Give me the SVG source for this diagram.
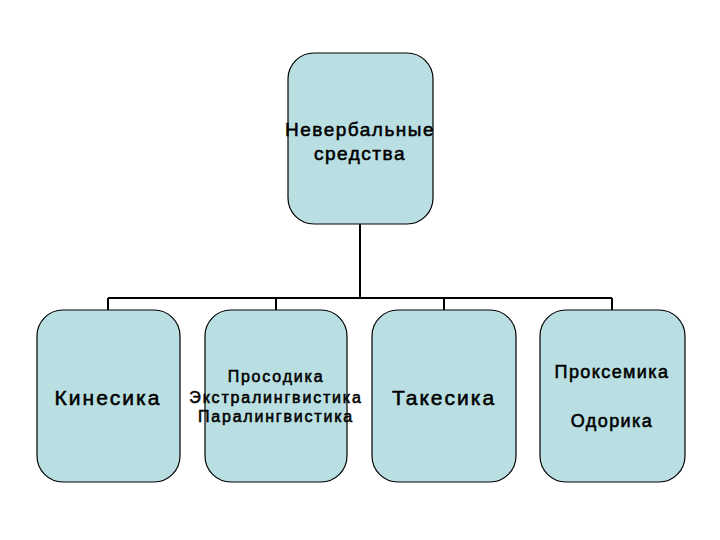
<svg xmlns="http://www.w3.org/2000/svg" width="720" height="540" viewBox="0 0 720 540">
<style>
.box{fill:#b9dfe2;stroke:#000;stroke-width:1.2}
.t{font-family:"Liberation Sans",Arial,sans-serif;fill:#000;stroke:#000;stroke-width:0.55;text-anchor:middle}
.c{fill:none;stroke:#000;stroke-width:2}
</style>
<rect width="720" height="540" fill="#fff"/>
<g id="connectors">
<path class="c" d="M360 224V298M108 298H612M108 298V310M276 298V310M444 298V310M612 298V310"/>
</g>
<g id="root">
<rect class="box" x="288" y="53" width="145" height="171" rx="26"/>
<text class="t" x="360" y="136" font-size="19" letter-spacing="1.5">Невербальные</text>
<text class="t" x="360" y="160" font-size="19" letter-spacing="1.5">средства</text>
</g>
<g id="kinesika">
<rect class="box" x="37" y="310" width="143" height="172" rx="26"/>
<text class="t" x="108" y="405" font-size="21" letter-spacing="2">Кинесика</text>
</g>
<g id="prosodika">
<rect class="box" x="205" y="310" width="142" height="172" rx="26"/>
<text class="t" x="276" y="382" font-size="16" letter-spacing="1.8">Просодика</text>
<text class="t" x="276" y="403" font-size="16" letter-spacing="1.8">Экстралингвистика</text>
<text class="t" x="276" y="422" font-size="16" letter-spacing="1.8">Паралингвистика</text>
</g>
<g id="takesika">
<rect class="box" x="372" y="310" width="144" height="172" rx="26"/>
<text class="t" x="444" y="405" font-size="21" letter-spacing="2">Такесика</text>
</g>
<g id="proksemika">
<rect class="box" x="540" y="310" width="145" height="172" rx="26"/>
<text class="t" x="612" y="378" font-size="18" letter-spacing="1.4">Проксемика</text>
<text class="t" x="612" y="427" font-size="18" letter-spacing="1.4">Одорика</text>
</g>
</svg>
